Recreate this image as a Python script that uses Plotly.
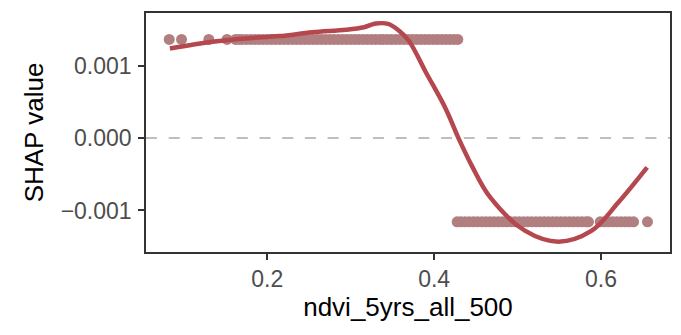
import plotly.graph_objects as go

# ---- data ----
upper_x = [0.0825, 0.0973, 0.130, 0.1518,
           0.162, 0.166, 0.170, 0.175, 0.180, 0.185, 0.190, 0.195, 0.200, 0.205,
           0.210, 0.215, 0.220, 0.225, 0.230, 0.235, 0.240, 0.245, 0.250, 0.255,
           0.260, 0.265, 0.270, 0.275, 0.280, 0.285, 0.290, 0.295, 0.300, 0.305,
           0.310, 0.315, 0.320, 0.325, 0.330, 0.335, 0.339, 0.344, 0.349, 0.354,
           0.359, 0.364, 0.369, 0.374, 0.379, 0.384, 0.389, 0.394, 0.399, 0.404,
           0.409, 0.414, 0.419, 0.424, 0.4284]
upper_y = [0.001361] * len(upper_x)

lower_x = [0.4276, 0.432, 0.437, 0.442, 0.447, 0.452, 0.457, 0.462, 0.467,
           0.472, 0.477, 0.482, 0.487, 0.492, 0.497, 0.502, 0.507, 0.512,
           0.517, 0.522, 0.527, 0.532, 0.537, 0.542, 0.547, 0.552, 0.557,
           0.562, 0.567, 0.572, 0.577, 0.582, 0.585,
           0.599, 0.604, 0.609, 0.614, 0.619, 0.624, 0.629, 0.634, 0.639,
           0.6557]
lower_y = [-0.001157] * len(lower_x)

curve_x = [0.0833, 0.1343, 0.1741, 0.2147, 0.2541, 0.2943, 0.316, 0.330,
           0.345, 0.358, 0.3699, 0.3899, 0.4137, 0.4296, 0.4451, 0.4666,
           0.5093, 0.549, 0.5884, 0.6207, 0.6553]
curve_y = [0.001236, 0.001328, 0.001375, 0.001407, 0.001460, 0.001495,
           0.001530, 0.001580, 0.001575, 0.001480, 0.001340, 0.000912,
           0.000409, -0.000011, -0.000381, -0.000810, -0.001282, -0.001430,
           -0.001282, -0.000890, -0.000405]

x_ticks = [0.2, 0.4, 0.6]
x_tick_text = ["0.2", "0.4", "0.6"]
y_ticks = [-0.001, 0.0, 0.001]
y_tick_text = ["\u22120.001", "0.000", "0.001"]

point_color = "rgb(177,127,128)"
line_color = "rgb(181,71,79)"
font_family = "Liberation Sans, Arial, sans-serif"

fig = go.Figure()
fig.add_hline(y=0, line=dict(color="#BEBEBE", width=2, dash="11px,11.7px"), layer="below")
fig.add_trace(go.Scatter(x=upper_x + lower_x, y=upper_y + lower_y, mode="markers",
                         marker=dict(size=11, color=point_color, line=dict(width=0)),
                         showlegend=False, hoverinfo="skip"))
fig.add_trace(go.Scatter(x=curve_x, y=curve_y, mode="lines",
                         line=dict(color=line_color, width=4.5, shape="spline", smoothing=1.0),
                         showlegend=False, hoverinfo="skip"))

axis_common = dict(showgrid=False, zeroline=False, showline=True, mirror=True,
                   linecolor="#333333", linewidth=1.5, ticks="outside", ticklen=6,
                   tickwidth=2, tickcolor="#333333",
                   tickfont=dict(family=font_family, size=23, color="#4D4D4D"))

fig.update_xaxes(range=[0.0547, 0.6827], tickvals=x_ticks, ticktext=x_tick_text,
                 title=dict(text="ndvi_5yrs_all_500", standoff=6,
                            font=dict(family=font_family, size=26, color="black")),
                 **axis_common)
fig.update_yaxes(range=[-0.001573, 0.001726], tickvals=y_ticks, ticktext=y_tick_text,
                 ticklabelstandoff=2,
                 title=dict(text="SHAP value", standoff=10,
                            font=dict(family=font_family, size=26, color="black")),
                 **axis_common)

fig.update_layout(width=681, height=335, margin=dict(l=146, r=9, t=13, b=83),
                  plot_bgcolor="white", paper_bgcolor="white")

fig.write_html("out.html")
